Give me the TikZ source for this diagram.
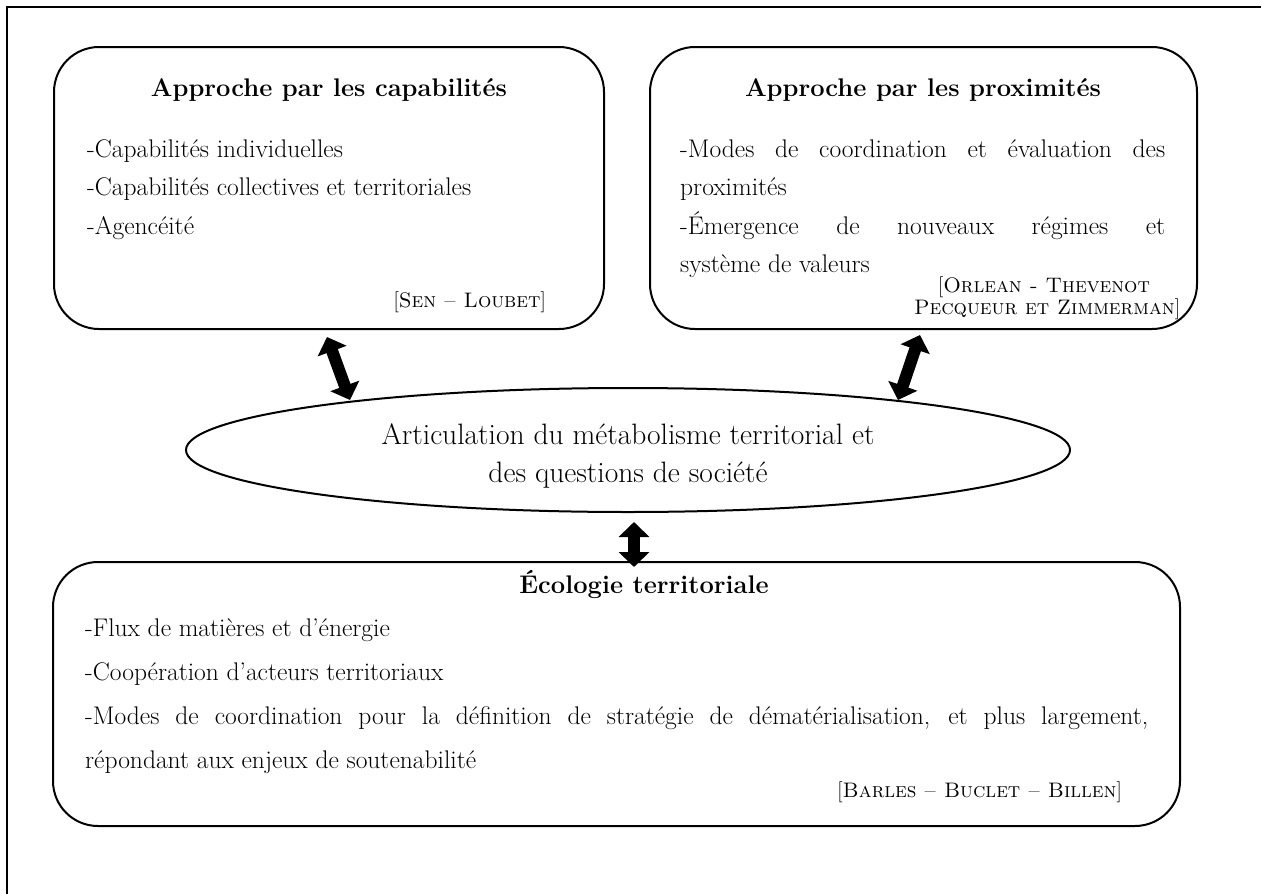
\documentclass[tikz,border=0pt]{standalone}
\usepackage{fontspec}
\usetikzlibrary{arrows.meta,shapes.geometric}
\tikzset{
  frameline/.style={line width=2.6pt},
  roundbox/.style={draw, line width=2pt, rounded corners=45pt},
  bodytext/.style={inner sep=0pt, anchor=base west, font=\fontsize{25.5}{30}\selectfont},
  titletext/.style={inner sep=0pt, anchor=base, font=\fontsize{25.5}{30}\selectfont\bfseries},
  citetext/.style={inner sep=0pt, font=\fontsize{21}{23}\selectfont},
  elltext/.style={inner sep=0pt, anchor=base, font=\fontsize{29.5}{34}\selectfont},
  dblarrow/.style={line width=12pt, {Triangle[width=30pt,length=15pt]}-{Triangle[width=30pt,length=15pt]}}
}
\begin{document}
\begin{tikzpicture}[x=1pt,y=-1pt]
\useasboundingbox (0,0) rectangle (1261,894);
% outer frame (top and left)
\draw[frameline] (1261,7) -- (7,7) -- (7,894);
% boxes
\node[roundbox, minimum width=550pt, minimum height=282pt, inner sep=0pt] (capab) at (329,188) {};
\node[roundbox, minimum width=547pt, minimum height=282pt, inner sep=0pt] (proxi) at (923.5,188) {};
\node[roundbox, minimum width=1127pt, minimum height=264pt, inner sep=0pt] (ecolo) at (616.5,694) {};
\node[draw, ellipse, line width=2pt, minimum width=884pt, minimum height=124pt, inner sep=0pt] (artic) at (628,450) {};
% left box text
\node[titletext] (capT) at (329,96) {Approche par les capabilités};
\node[bodytext] (capA) at (87,157) {-Capabilités individuelles};
\node[bodytext] (capB) at (87,195.5) {-Capabilités collectives et territoriales};
\node[bodytext] (capC) at (87,234) {-Agencéité};
\node[citetext, anchor=base east] (capR) at (546,307) {[\textsc{Sen – Loubet}]};
% right box text
\node[titletext] (proT) at (923,96) {Approche par les proximités};
\node[bodytext] (proA) at (680,157) {\makebox[485pt][s]{-Modes de coordination et évaluation des}};
\node[bodytext] (proB) at (680,195.5) {proximités};
\node[bodytext] (proC) at (680,234) {\makebox[485pt][s]{-Émergence de nouveaux régimes et}};
\node[bodytext] (proD) at (680,272.5) {système de valeurs};
\node[citetext, anchor=base] (proR1) at (1044,292) {[\textsc{Orlean - Thevenot}};
\node[citetext, anchor=base] (proR2) at (1047,314) {\textsc{Pecqueur et Zimmerman}]};
% ellipse text
\node[elltext] (artA) at (628,444) {Articulation du métabolisme territorial et};
\node[elltext] (artB) at (628,482) {des questions de société};
% bottom box text
\node[titletext] (ecoT) at (644,593) {Écologie territoriale};
\node[bodytext] (ecoA) at (85,636) {-Flux de matières et d’énergie};
\node[bodytext] (ecoB) at (85,680) {-Coopération d’acteurs territoriaux};
\node[bodytext] (ecoC) at (85,724) {\makebox[1063pt][s]{-Modes de coordination pour la définition de stratégie de dématérialisation, et plus largement,}};
\node[bodytext] (ecoD) at (85,768) {répondant aux enjeux de soutenabilité};
\node[citetext, anchor=base east] (ecoR) at (1122,797) {[\textsc{Barles – Buclet – Billen}]};
% arrows
\coordinate (a1s) at (327,337);
\coordinate (a1e) at (350,400);
\coordinate (a2s) at (920,335);
\coordinate (a2e) at (898,400);
\coordinate (a3s) at (634,522);
\coordinate (a3e) at (634,567);
\draw[dblarrow] (a1s) -- (a1e);
\draw[dblarrow] (a2s) -- (a2e);
\draw[dblarrow] (a3s) -- (a3e);
\end{tikzpicture}
\end{document}
